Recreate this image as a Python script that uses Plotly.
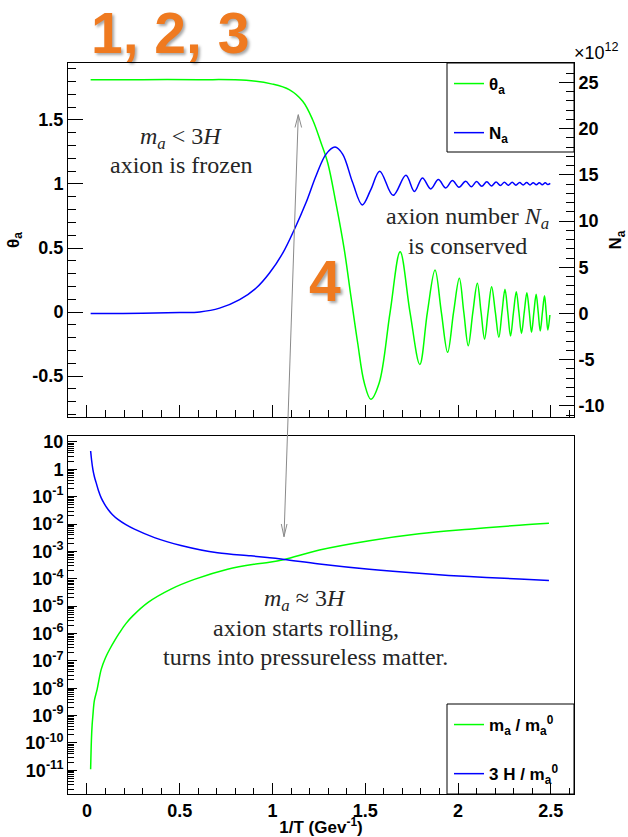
import plotly.graph_objects as go

# ---------------- data ----------------
theta_x = [0.02, 0.3, 0.6, 0.859, 1.0, 1.09, 1.163, 1.217, 1.262, 1.298, 1.342, 1.387, 1.423,
           1.459, 1.495, 1.530, 1.575, 1.634, 1.688, 1.741, 1.794, 1.835, 1.876, 1.910, 1.944,
           1.976, 2.007, 2.031, 2.055, 2.080, 2.104, 2.124, 2.143, 2.162, 2.181, 2.201, 2.220,
           2.237, 2.253, 2.268, 2.283, 2.299, 2.314, 2.328, 2.342, 2.357, 2.371, 2.384, 2.396,
           2.409, 2.421, 2.432, 2.443, 2.455, 2.466, 2.475, 2.484, 2.495]
theta_y = [1.815, 1.815, 1.815, 1.81, 1.78, 1.737, 1.646, 1.50, 1.32, 1.164, 0.85, 0.487, 0.12,
           -0.24, -0.555, -0.682, -0.555, 0.0, 0.471, 0.0, -0.409, 0.0, 0.328, 0.0, -0.315,
           0.0, 0.263, 0.0, -0.263, 0.0, 0.224, 0.0, -0.211, 0.0, 0.198, 0.0, -0.198,
           0.0, 0.177, 0.0, -0.188, 0.0, 0.159, 0.0, -0.167, 0.0, 0.151, 0.0, -0.159,
           0.0, 0.138, 0.0, -0.148, 0.0, 0.128, 0.0, -0.141, -0.023]

na_x = [0.02, 0.3, 0.5, 0.608, 0.715, 0.823, 0.912, 0.984, 1.056, 1.118, 1.181, 1.235, 1.289,
        1.337, 1.378, 1.432, 1.484, 1.53, 1.578, 1.65, 1.719, 1.765, 1.808, 1.853, 1.894,
        1.934, 1.970, 2.005, 2.041, 2.072, 2.10, 2.128, 2.155, 2.18, 2.205, 2.228, 2.25,
        2.271, 2.292, 2.312, 2.332, 2.351, 2.37, 2.388, 2.405, 2.422, 2.438, 2.454, 2.47,
        2.484, 2.497]
na_y = [0.0, 0.02, 0.1, 0.17, 0.58, 1.5, 2.75, 4.38, 6.55, 9.09, 12.0, 14.9, 17.24,
        18.0, 17.24, 14.16, 11.75, 13.4, 15.4, 12.78, 14.95, 13.2, 14.67, 13.48, 14.49,
        13.58, 14.38, 13.65, 14.3, 13.72, 14.27, 13.76, 14.24, 13.8, 14.22, 13.84, 14.2,
        13.86, 14.19, 13.88, 14.17, 13.9, 14.16, 13.91, 14.15, 13.92, 14.15, 13.93, 14.14,
        13.95, 14.08]

ma_x = [0.02, 0.024, 0.028, 0.032, 0.04, 0.055, 0.077, 0.1, 0.122, 0.15, 0.176, 0.21, 0.247,
        0.328, 0.453, 0.579, 0.758, 0.9, 0.984, 1.065, 1.253, 1.522, 1.79, 2.06, 2.33, 2.49]
ma_y = [1.1e-11, 1.2e-10, 4.5e-10, 9.8e-10, 3.5e-9, 9.1e-9, 4.9e-8, 1.3e-7, 2.6e-7, 5.6e-7,
        1.07e-6, 2.3e-6, 4.4e-6, 1.35e-5, 4.2e-5, 9.5e-5, 2.24e-4, 3.4e-4, 4.0e-4, 5.1e-4,
        1.12e-3, 2.45e-3, 4.4e-3, 6.5e-3, 9.1e-3, 1.07e-2]

h3_x = [0.02, 0.025, 0.032, 0.04, 0.05, 0.062, 0.077, 0.094, 0.113, 0.138, 0.167, 0.21, 0.256,
        0.364, 0.507, 0.704, 0.883, 0.984, 1.065, 1.253, 1.522, 1.79, 2.06, 2.33, 2.49]
h3_y = [4.7, 2.2, 1.0, 0.55, 0.32, 0.17, 0.091, 0.055, 0.035, 0.022, 0.0148, 0.0095, 0.0065,
        0.0032, 0.00166, 8.9e-4, 6.9e-4, 5.9e-4, 5.1e-4, 3.5e-4, 2.24e-4, 1.58e-4, 1.2e-4,
        9.8e-5, 8.7e-5]

x_tickvals = [0, 0.5, 1, 1.5, 2, 2.5]
x_ticktext = ["0", "0.5", "1", "1.5", "2", "2.5"]
theta_tickvals = [-0.5, 0, 0.5, 1, 1.5]
theta_ticktext = ["-0.5", "0", "0.5", "1", "1.5"]
na_tickvals = [-10, -5, 0, 5, 10, 15, 20, 25]
na_ticktext = ["-10", "-5", "0", "5", "10", "15", "20", "25"]
log_tickvals = [1e-11, 1e-10, 1e-9, 1e-8, 1e-7, 1e-6, 1e-5, 1e-4, 1e-3, 1e-2, 1e-1, 1, 10]
log_ticktext = ["10<sup>-11</sup>", "10<sup>-10</sup>", "10<sup>-9</sup>", "10<sup>-8</sup>",
                "10<sup>-7</sup>", "10<sup>-6</sup>", "10<sup>-5</sup>", "10<sup>-4</sup>",
                "10<sup>-3</sup>", "10<sup>-2</sup>", "10<sup>-1</sup>", "1", "10"]
log_decades = list(range(-12, 2))
log_mantissas = [2, 3, 4, 5, 6, 7, 8, 9]
log_minor_vals = [m * 10.0 ** k for k in log_decades for m in log_mantissas]

# ---------------- geometry ----------------
W, H = 628, 837
ML, MR, MT, MB = 68, 54, 63, 43
PW, PH = W - ML - MR, H - MT - MB


def fx(px):
    return (px - ML) / PW


def fy(py):
    return (H - MB - py) / PH


GREEN = "#00ff00"
BLUE = "#0000ff"
SANS = "Liberation Sans"
SERIF = "Liberation Serif"
tickfont = dict(family=SANS, size=18, color="black", weight="bold")
titlefont = dict(family=SANS, size=17, color="black", weight="bold")

fig = go.Figure()
fig.add_trace(go.Scatter(x=theta_x, y=theta_y, mode="lines", name="θ<sub>a</sub>",
                         line=dict(color=GREEN, width=1.5, shape="spline", smoothing=1.0),
                         xaxis="x", yaxis="y", legend="legend", legendgroup="a"))
fig.add_trace(go.Scatter(x=na_x, y=na_y, mode="lines", name="N<sub>a</sub>",
                         line=dict(color=BLUE, width=1.5, shape="spline", smoothing=1.0),
                         xaxis="x", yaxis="y3", legend="legend", legendgroup="b"))
fig.add_trace(go.Scatter(x=ma_x, y=ma_y, mode="lines", name="m<sub>a</sub> / m<sub>a</sub><sup>0</sup>",
                         line=dict(color=GREEN, width=1.5, shape="spline", smoothing=1.0),
                         xaxis="x2", yaxis="y2", legend="legend2", legendgroup="c"))
fig.add_trace(go.Scatter(x=h3_x, y=h3_y, mode="lines", name="3 H / m<sub>a</sub><sup>0</sup>",
                         line=dict(color=BLUE, width=1.5, shape="spline", smoothing=1.0),
                         xaxis="x2", yaxis="y2", legend="legend2", legendgroup="d"))

xrange = [-0.102, 2.625]
common = dict(showline=True, linecolor="black", linewidth=1, showgrid=False, zeroline=False,
              ticks="inside", tickcolor="black", automargin=False)

fig.update_layout(
    width=W, height=H,
    margin=dict(l=ML, r=MR, t=MT, b=MB, pad=0),
    paper_bgcolor="white", plot_bgcolor="white",
    xaxis=dict(domain=[0, 1], anchor="y", range=xrange, mirror=True,
               tickmode="array", tickvals=x_tickvals, showticklabels=False, ticklen=12,
               minor=dict(ticks="inside", ticklen=7, tickmode="linear", tick0=0, dtick=0.1,
                          tickcolor="black"),
               **common),
    yaxis=dict(domain=[fy(417), 1], anchor="x", range=[-0.820, 1.945], mirror=False,
               tickmode="array", tickvals=theta_tickvals, ticktext=theta_ticktext,
               ticklen=15, tickfont=tickfont,
               minor=dict(ticks="inside", ticklen=8, tickmode="linear", tick0=0, dtick=0.1,
                          tickcolor="black"),
               title=dict(text="θ<sub>a</sub>", font=titlefont, standoff=8),
               **common),
    yaxis3=dict(overlaying="y", side="right", anchor="x", range=[-11.2, 27.1],
                tickmode="array", tickvals=na_tickvals, ticktext=na_ticktext,
                ticklen=15, tickfont=tickfont,
                minor=dict(ticks="inside", ticklen=8, tickmode="linear", tick0=0, dtick=1,
                           tickcolor="black"),
                title=dict(text="N<sub>a</sub>", font=titlefont, standoff=8),
                **common),
    xaxis2=dict(domain=[0, 1], anchor="y2", range=xrange, mirror=True,
                tickmode="array", tickvals=x_tickvals, ticktext=x_ticktext,
                ticklen=11, tickfont=tickfont,
                minor=dict(ticks="inside", ticklen=6, tickmode="linear", tick0=0, dtick=0.1,
                           tickcolor="black"),
                title=dict(text="1/T (Gev<sup>-1</sup>)", font=titlefont, standoff=10),
                **common),
    yaxis2=dict(domain=[0, fy(436)], anchor="x2", type="log", range=[-11.866, 1.219],
                mirror=True, tickmode="array", tickvals=log_tickvals, ticktext=log_ticktext,
                ticklen=9, tickfont=tickfont,
                minor=dict(ticks="inside", ticklen=6, tickmode="array", tickvals=log_minor_vals,
                           tickcolor="black"),
                **common),
    legend=dict(x=fx(449), y=fy(66), xanchor="left", yanchor="top", bgcolor="rgba(0,0,0,0)",
                borderwidth=0, tracegroupgap=24, itemwidth=30,
                font=dict(family=SANS, size=17, color="black", weight="bold")),
    legend2=dict(x=fx(449), y=fy(707), xanchor="left", yanchor="top", bgcolor="rgba(0,0,0,0)",
                 borderwidth=0, tracegroupgap=24, itemwidth=30,
                 font=dict(family=SANS, size=17, color="black", weight="bold")),
    hovermode=False,
)

# legend frames
fig.add_shape(type="rect", xref="paper", yref="paper", x0=fx(447), x1=fx(574), y0=fy(152), y1=fy(63),
              line=dict(color="black", width=1), fillcolor="white", layer="below")
fig.add_shape(type="rect", xref="paper", yref="paper", x0=fx(447), x1=fx(574), y0=fy(794), y1=fy(704),
              line=dict(color="black", width=1), fillcolor="white", layer="below")

# double-headed arrow
def P(x, y):
    return f"{fx(x):.5f},{fy(y):.5f}"

arrow_path = (f"M{P(298.3, 114.7)} L{P(284, 536.7)} "
              f"M{P(295.0, 127.5)} L{P(298.3, 114.7)} L{P(301.6, 127.5)} "
              f"M{P(281.3, 524.0)} L{P(284, 536.7)} L{P(287.0, 524.0)}")
fig.add_shape(type="path", xref="paper", yref="paper", path=arrow_path,
              line=dict(color="#8a8a8a", width=1))

serif = dict(family=SERIF, size=24, color="#262626")
texts = [
    ("<i>m<sub>a</sub></i> &lt; 3<i>H</i>", 181, 138),
    ("axion is frozen", 181, 165),
    ("axion number <i>N<sub>a</sub></i>", 467, 218),
    ("is conserved", 467, 246),
    ("<i>m<sub>a</sub></i> ≈ 3<i>H</i>", 305, 600),
    ("axion starts rolling,", 306, 628),
    ("turns into pressureless matter.", 305, 657),
]
for t, x, y in texts:
    fig.add_annotation(text=t, x=fx(x), y=fy(y), xref="paper", yref="paper",
                       xanchor="center", yanchor="middle", showarrow=False, font=serif)

orange = dict(family=SANS, size=57, color="#EF7A20", weight="bold",
              shadow="2px 2px 3px rgba(0,0,0,0.35)")
fig.add_annotation(text="1, 2, 3", x=fx(170), y=fy(33), xref="paper", yref="paper",
                   xanchor="center", yanchor="middle", showarrow=False, font=orange)
fig.add_annotation(text="4", x=fx(325), y=fy(281), xref="paper", yref="paper",
                   xanchor="center", yanchor="middle", showarrow=False, font=orange)

fig.add_annotation(text="×10<sup>12</sup>", x=fx(572), y=fy(52), xref="paper", yref="paper",
                   xanchor="left", yanchor="middle", showarrow=False,
                   font=dict(family=SANS, size=18, color="black"))

fig.write_html("out.html", config={"displayModeBar": False},
               post_script="document.body.style.margin='0';document.body.style.padding='0';")
